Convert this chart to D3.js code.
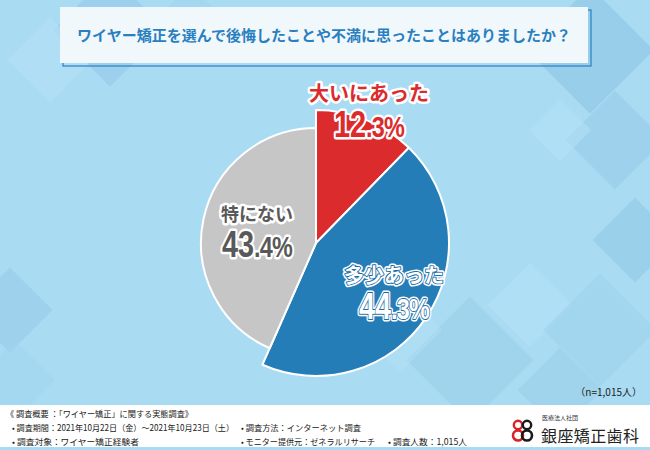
<!DOCTYPE html>
<html>
<head>
<meta charset="utf-8">
<script src="https://cdn.jsdelivr.net/npm/d3@7"></script>
<style>
  html, body { margin: 0; padding: 0; background: #a9dcf3; }
  svg { display: block; font-family: "Noto Sans CJK JP", "Noto Sans", sans-serif; }
</style>
</head>
<body>
<svg id="chart" width="650" height="450"></svg>
<script>
const title = "ワイヤー矯正を選んで後悔したことや不満に思ったことはありましたか？";
const categories = ["大いにあった", "多少あった", "特にない"];
const values = [12.3, 44.3, 43.4];
const sampleNote = "（n=1,015人）";
const footerLines = [
  ["《 調査概要 ：「ワイヤー矯正」に関する実態調査》"],
  ["• 調査期間：2021年10月22日（金）～2021年10月23日（土）", "• 調査方法：インターネット調査"],
  ["• 調査対象：ワイヤー矯正経験者", "• モニター提供元：ゼネラルリサーチ", "• 調査人数：1,015人"]
];

const W = 650, H = 450;
const svg = d3.select("#chart");

// fond : losanges
const bg = svg.append("g");
bg.append("rect").attr("width", W).attr("height", H).attr("fill", "#a9dcf3");
const diamonds = [
  [110, 30, 40, "#97cbe8", 0.7], [50, 60, 30, "#b5e1f6", 0.6], [190, 20, 25, "#9fd2ed", 0.5],
  [590, 50, 45, "#93c8e6", 0.7], [615, 140, 35, "#97cbe8", 0.6], [560, 130, 22, "#b5e1f6", 0.5],
  [635, 240, 30, "#93c8e6", 0.6], [470, 360, 45, "#9bceea", 0.6], [530, 305, 30, "#b5e1f6", 0.5],
  [600, 330, 40, "#9fd2ed", 0.6], [560, 390, 30, "#97cbe8", 0.5], [10, 310, 30, "#97cbe8", 0.6],
  [15, 380, 28, "#9fd2ed", 0.5], [400, 330, 30, "#b5e1f6", 0.4]
];
bg.selectAll("rect.dia").data(diamonds).join("rect")
  .attr("class", "dia")
  .attr("x", d => -d[2]).attr("y", d => -d[2])
  .attr("width", d => d[2] * 2).attr("height", d => d[2] * 2)
  .attr("fill", d => d[3]).attr("opacity", d => d[4])
  .attr("transform", d => `translate(${d[0]},${d[1]}) rotate(45)`);

// titre
svg.append("rect").attr("x", 63).attr("y", 10).attr("width", 528).attr("height", 56)
  .attr("fill", "none").attr("stroke", "#2a80c2").attr("stroke-width", 1.2);
svg.append("rect").attr("x", 60).attr("y", 7).attr("width", 528).attr("height", 56)
  .attr("fill", "#f1f8fc");
svg.append("text").attr("x", 324).attr("y", 41).attr("text-anchor", "middle")
  .attr("font-size", 15).attr("font-weight", "bold").attr("fill", "#2a7fbf")
  .text(title);

// camembert
const colors = ["#dc2b2c", "#247db7", "#c6c6c6"];
const cx = 316, cy = 243;
const radius = i => i === 2 ? 115 : 133;

const pie = d3.pie().sort(null).value(d => d.value);
const arcs = pie(categories.map((c, i) => ({ name: c, value: values[i], i })));

const pg = svg.append("g").attr("transform", `translate(${cx},${cy})`);
pg.selectAll("path").data(arcs).join("path")
  .attr("d", d => d3.arc().innerRadius(0).outerRadius(radius(d.data.i))(d))
  .attr("fill", d => colors[d.data.i])
  .attr("stroke", "#fff").attr("stroke-width", 2).attr("stroke-linejoin", "round");

// étiquettes
const labelPos = [
  { x: 369, y: 101, fill: "#dc2b2c", inner: null },
  { x: 394, y: 283, fill: "#ffffff", inner: "#1d6ca3" },
  { x: 257, y: 221, fill: "#595959", inner: null }
];
const labels = svg.append("g");
function drawLabel(i, layer) {
  const p = labelPos[i];
  const g = labels.append("g").attr("transform", `translate(${p.x},0)`);
  const strokeCol = layer === 0 ? "#fff" : p.inner;
  const sw = layer === 0 ? 5 : 1.8;
  g.append("text").attr("y", p.y).attr("text-anchor", "middle")
    .attr("font-size", i === 2 ? 18 : 20).attr("font-weight", "bold")
    .attr("fill", p.fill).attr("stroke", strokeCol).attr("stroke-width", sw)
    .attr("stroke-linejoin", "round").attr("paint-order", "stroke")
    .text(categories[i]);
  const parts = values[i].toFixed(1).split(".");
  const t = g.append("text").attr("transform", `translate(0,${p.y + 36}) scale(0.78,1)`)
    .attr("text-anchor", "middle").attr("font-weight", "bold")
    .attr("fill", p.fill).attr("stroke", strokeCol).attr("stroke-width", sw)
    .attr("stroke-linejoin", "round").attr("paint-order", "stroke")
    .attr("font-family", "'Liberation Sans', Arial, sans-serif");
  t.append("tspan").attr("font-size", 37).text(parts[0]);
  t.append("tspan").attr("font-size", 30).attr("letter-spacing", -1).text("." + parts[1] + "%");
}
categories.forEach((c, i) => {
  drawLabel(i, 0);
  if (labelPos[i].inner) drawLabel(i, 1);
});

// note n
svg.append("text").attr("x", 642).attr("y", 396).attr("text-anchor", "end")
  .attr("font-size", 10).attr("fill", "#222").text(sampleNote);

// pied de page
svg.append("rect").attr("x", 0).attr("y", 405).attr("width", W).attr("height", 42).attr("fill", "#ffffff");
const fx = [[6], [12, 241], [12, 241, 388]];
const fw = [[187], [222, 120], [127, 134, 79]];
const fy = [417, 431, 444.5];
footerLines.forEach((line, r) => {
  line.forEach((txt, k) => {
    svg.append("text").attr("x", fx[r][k]).attr("y", fy[r])
      .attr("font-size", 8.5).attr("fill", "#222")
      .attr("textLength", fw[r][k]).attr("lengthAdjust", "spacingAndGlyphs")
      .text(txt);
  });
});

// logo
const logo = svg.append("g").attr("transform", "translate(513,420)");
[[5, "#d8222a"], [14, "#1a1a1a"]].forEach(([x, col]) => {
  logo.append("circle").attr("cx", x).attr("cy", 5).attr("r", 4.2).attr("fill", "none").attr("stroke", col).attr("stroke-width", 2.4);
  logo.append("circle").attr("cx", x).attr("cy", 15.5).attr("r", 5).attr("fill", "none").attr("stroke", col).attr("stroke-width", 2.6);
});
svg.append("text").attr("x", 542).attr("y", 420).attr("font-size", 6).attr("fill", "#333")
  .text("医療法人社団");
svg.append("text").attr("x", 541).attr("y", 442).attr("font-size", 16).attr("fill", "#222")
  .attr("textLength", 98).text("銀座矯正歯科");
</script>
</body>
</html>
